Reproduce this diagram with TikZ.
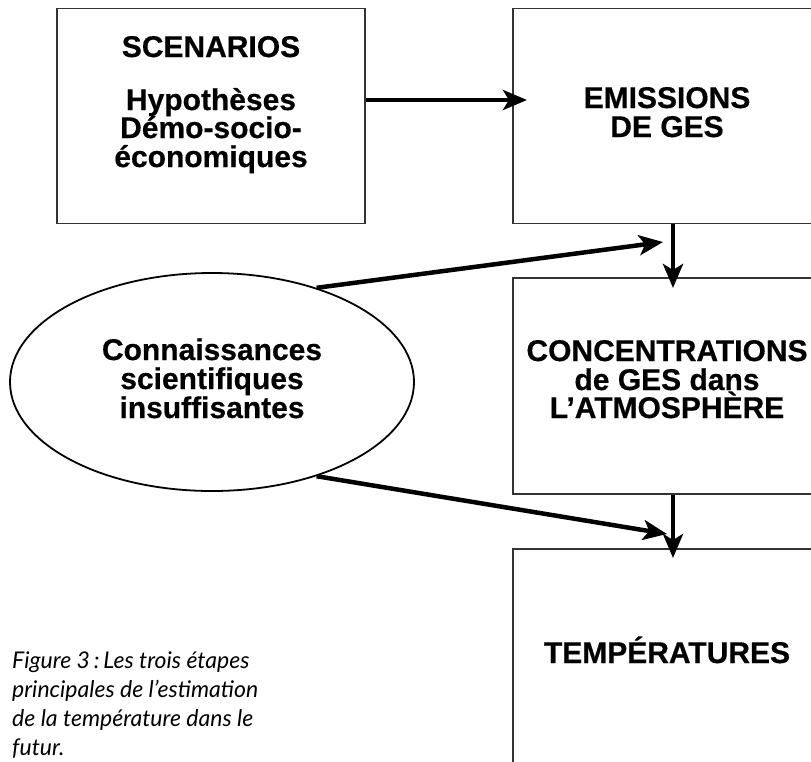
\documentclass[tikz,border=0pt]{standalone}
\usepackage{fontspec}
\setmainfont{Liberation Sans}[BoldFeatures={FakeBold=0.5}]
\newfontfamily\capfont{Lato}
\usetikzlibrary{arrows.meta,shapes.geometric}
\begin{document}
\begin{tikzpicture}[x=1pt,y=-1pt,
  boxline/.style={draw=black!80,line width=1.6pt,rectangle,inner sep=0pt,minimum width=308pt},
  lbl/.style={font=\fontsize{30}{30}\selectfont\bfseries,anchor=base,inner sep=0pt},
  captxt/.style={font=\capfont\itshape\fontsize{23}{23}\selectfont,anchor=base west,inner sep=0pt},
  arr/.style={line width=4.5pt,-{Stealth[length=24pt,width=20pt,inset=6pt]}}]
\useasboundingbox[fill=white] (0,0) rectangle (811,761);
% boxes
\node[boxline,minimum height=215pt] (scen) at (211,116) {};
\node[boxline,minimum height=215pt] (emis) at (667,116) {};
\node[boxline,minimum height=216pt] (conc) at (667,386) {};
\node[boxline,minimum height=218pt] (temp) at (667,658) {};
\node[draw,ellipse,line width=1.8pt,minimum width=404pt,minimum height=218pt,inner sep=0pt] (ell) at (212,382) {};
% texts
\node[lbl] (s1) at (211,57) {SCENARIOS};
\node[lbl] (s2) at (211,110) {Hypothèses};
\node[lbl] (s3) at (211,138) {Démo-socio-};
\node[lbl] (s4) at (211,167) {économiques};
\node[lbl] (e1) at (667,108) {EMISSIONS};
\node[lbl] (e2) at (667,137) {DE GES};
\node[lbl] (c1) at (667,361) {CONCENTRATIONS};
\node[lbl] (c2) at (667,390) {de GES dans};
\node[lbl] (c3) at (667,418) {L’ATMOSPHÈRE};
\node[lbl] (tt) at (667,663) {TEMPÉRATURES};
\node[lbl] (k1) at (212,360) {Connaissances};
\node[lbl] (k2) at (212,389) {scientifiques};
\node[lbl] (k3) at (212,418) {insuffisantes};
% caption
\node[captxt] (f1) at (12,668) {Figure 3\,:\,Les trois étapes};
\node[captxt] (f2) at (12,697) {principales de l’estimation};
\node[captxt] (f3) at (12,726) {de la température dans le};
\node[captxt] (f4) at (12,755) {futur.};
% arrows
\coordinate (t1) at (527,100);
\coordinate (t2) at (673,288);
\coordinate (t3) at (673,558);
\coordinate (t4) at (663,242);
\coordinate (t5) at (667,534);
\draw[arr] (scen.east |- t1) -- (t1);
\draw[arr] (emis.south -| t2) -- (t2);
\draw[arr] (conc.south -| t3) -- (t3);
\draw[arr] (ell.42) -- (t4);
\draw[arr] (ell.-42) -- (t5);
\end{tikzpicture}
\end{document}
